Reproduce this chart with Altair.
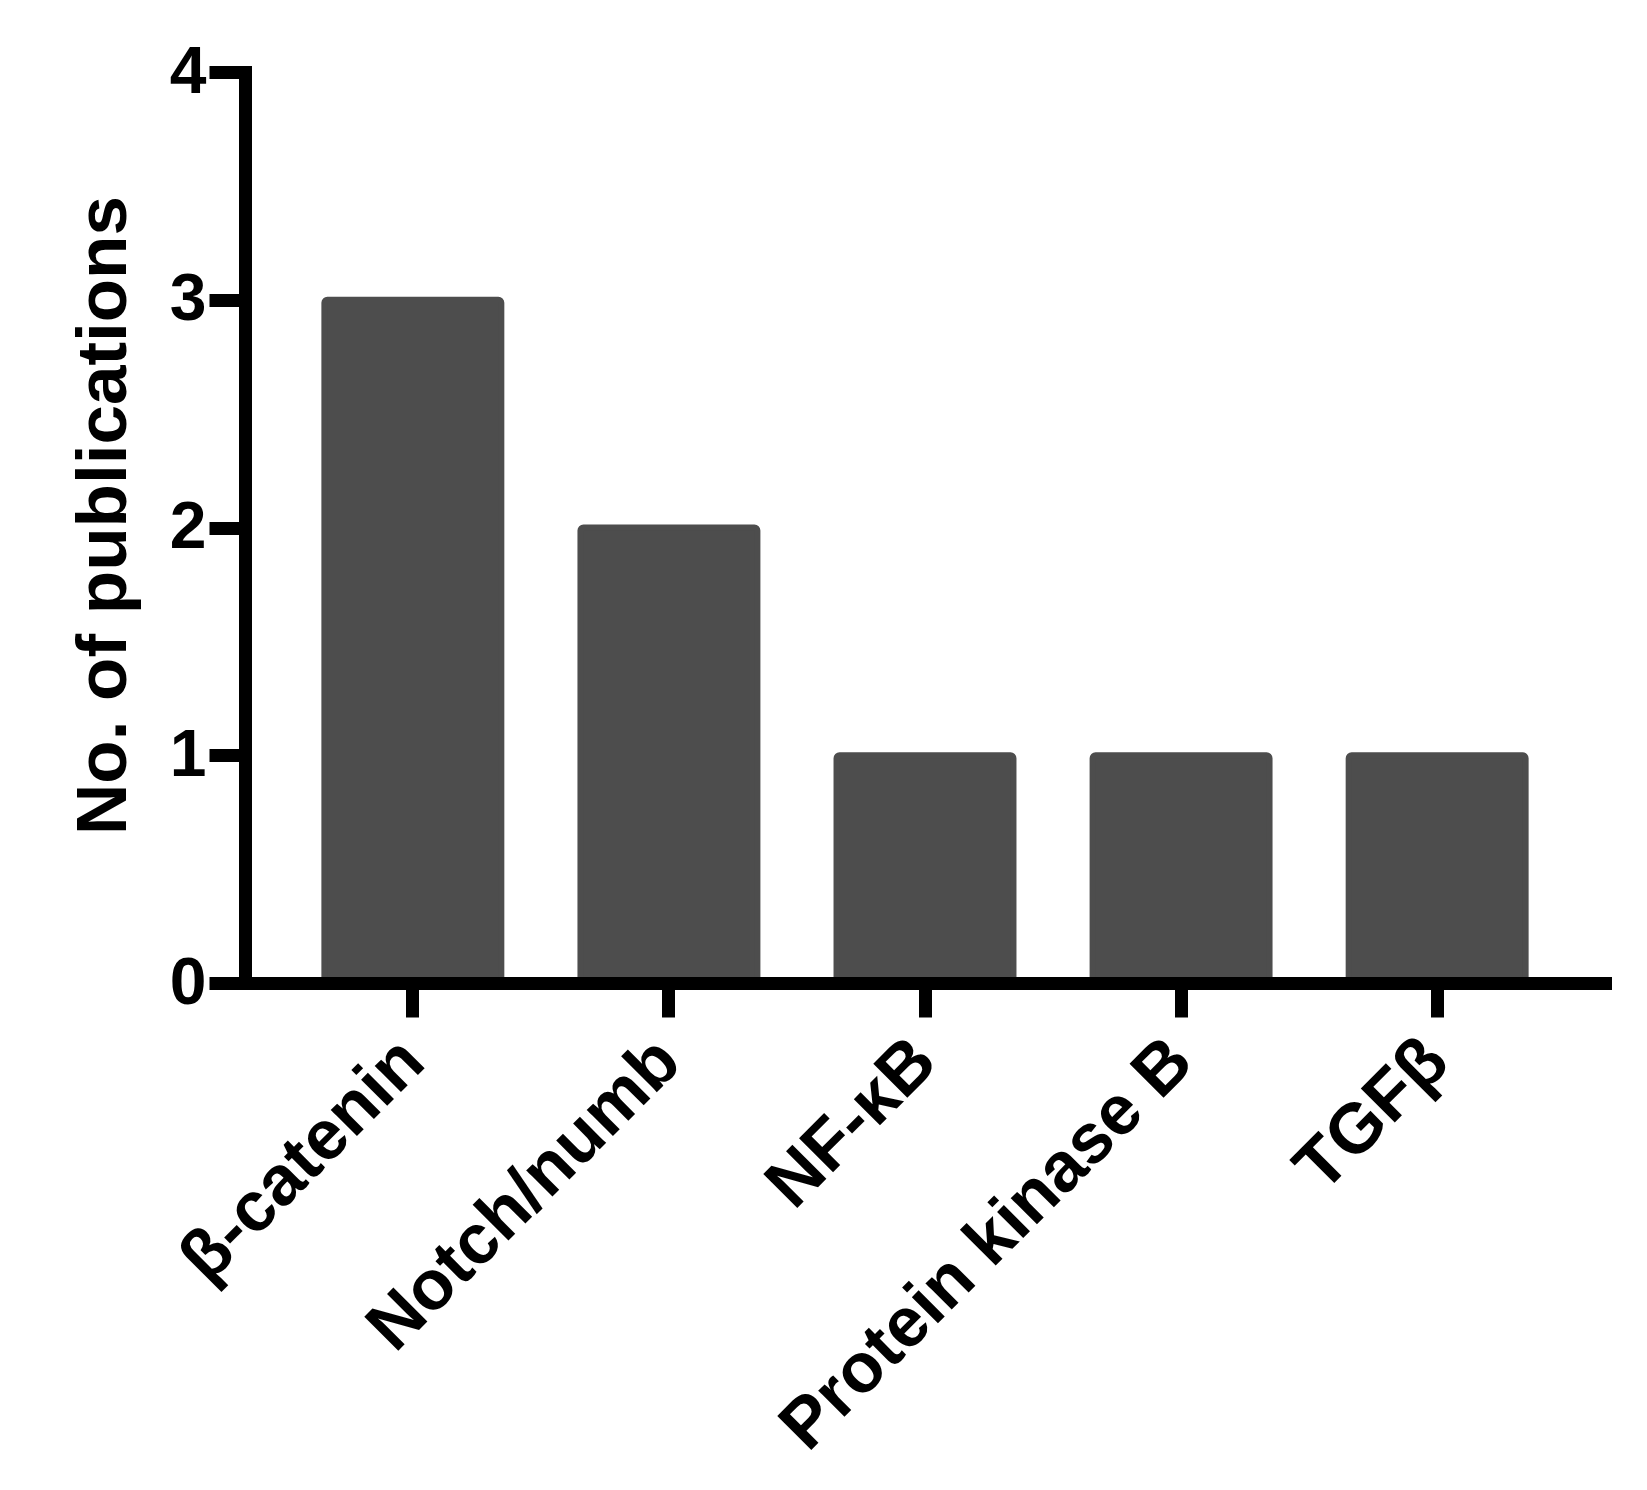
import altair as alt
import pandas as pd

# Data
categories = ["β-catenin", "Notch/numb", "NF-κB", "Protein kinase B", "TGFβ"]
publications = [3, 2, 1, 1, 1]
y_ticks = [0, 1, 2, 3, 4]

df = pd.DataFrame({"pathway": categories, "count": publications})

FONT = "Liberation Sans"

chart = (
    alt.Chart(df)
    .mark_bar(
        color="#4d4d4d",
        stroke="#4d4d4d",
        strokeWidth=6,
        cornerRadiusTopLeft=3,
        cornerRadiusTopRight=3,
    )
    .encode(
        x=alt.X(
            "pathway:N",
            sort=categories,
            title=None,
            scale=alt.Scale(paddingInner=0.309, paddingOuter=0.31),
            axis=alt.Axis(
                labelAngle=-45,
                labelAlign="right",
                labelBaseline="middle",
                labelPadding=33,
                labelFontSize=70,
                labelFont=FONT,
                labelFontWeight="bold",
                labelColor="black",
                labelLimit=2000,
                labelOverlap=False,
                tickSize=34,
                tickWidth=13,
                tickColor="black",
                domainColor="black",
                domainWidth=13,
                domainCap="square",
                zindex=1,
            ),
        ),
        y=alt.Y(
            "count:Q",
            scale=alt.Scale(domain=[0, 4], nice=False),
            title="No. of publications",
            axis=alt.Axis(
                values=y_ticks,
                format="d",
                grid=False,
                labelFontSize=66,
                labelFont=FONT,
                labelFontWeight="bold",
                labelColor="black",
                labelPadding=3,
                tickSize=36,
                tickWidth=13,
                tickColor="black",
                domainColor="black",
                domainWidth=13,
                domainCap="square",
                titleFont=FONT,
                titleFontSize=71,
                titleFontWeight="bold",
                titleColor="black",
                titlePadding=29,
                titleY=443,
                zindex=1,
            ),
        ),
    )
    .properties(
        width=1360,
        height=911,
        autosize=alt.AutoSizeParams(type="none"),
        padding={"left": 237, "top": 64, "right": 30, "bottom": 480},
    )
    .configure_view(stroke=None)
)

chart.save("out.html", embed_options={"renderer": "svg", "actions": False})
